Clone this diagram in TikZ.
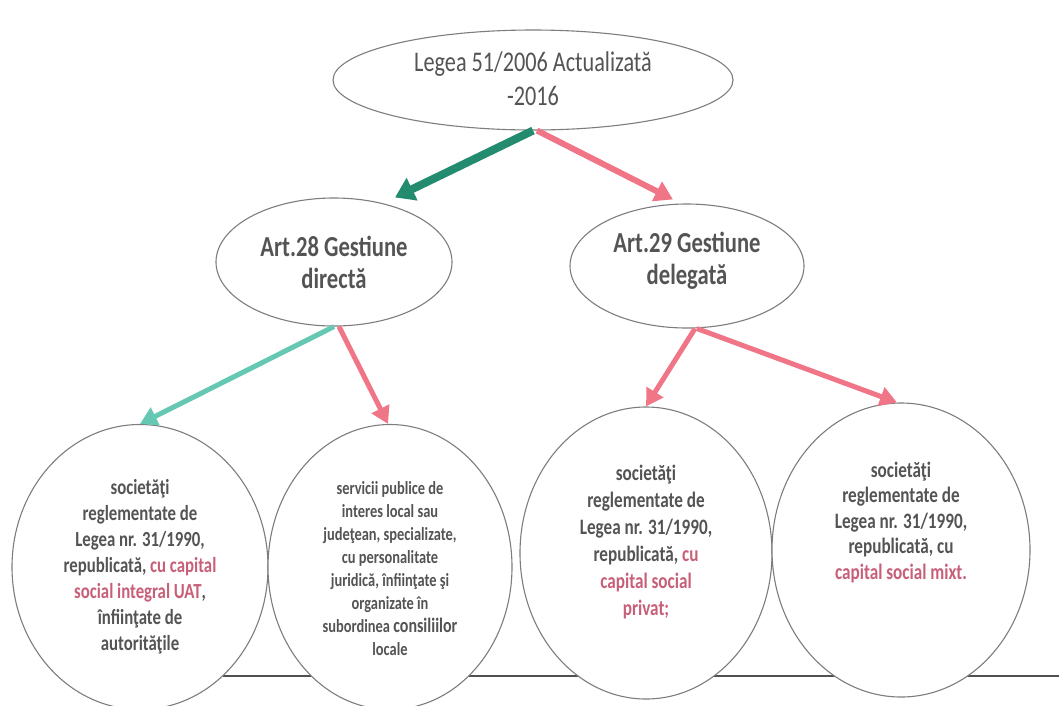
\documentclass[tikz,border=0pt]{standalone}
\usepackage{fontspec}
\setmainfont{Carlito}[FakeStretch=0.78]
\usetikzlibrary{shapes.geometric,arrows.meta}
\definecolor{textgray}{RGB}{84,84,84}
\definecolor{rosetext}{RGB}{200,95,120}
\definecolor{darkteal}{RGB}{35,140,110}
\definecolor{lightteal}{RGB}{100,200,178}
\definecolor{rosearrow}{RGB}{240,118,135}
\definecolor{rimgray}{RGB}{125,125,125}
\definecolor{basegray}{RGB}{80,80,80}
\begin{document}
\begin{tikzpicture}[x=1pt,y=-1pt]
  \tikzstyle{every node}=[text=textgray,align=center,inner sep=0pt]
  \tikzstyle{oval}=[ellipse,draw=rimgray,line width=1.1pt,fill=white]
  \tikzstyle{lawtext}=[font=\fontsize{28.5}{34}\selectfont]
  \tikzstyle{arttext}=[font=\bfseries\fontsize{29}{32}\selectfont]
  \tikzstyle{leaftext}=[font=\bfseries\fontsize{21.5}{26}\selectfont]
  \tikzstyle{smalltext}=[font=\bfseries\fontsize{18.5}{23}\selectfont]
  \tikzstyle{bigarrow}=[-{Triangle[width=24pt,length=19pt]},line width=8pt]
  \tikzstyle{midarrow}=[-{Triangle[width=21pt,length=18pt]},line width=6pt]
  \tikzstyle{thinarrow}=[-{Triangle[width=19pt,length=17pt]},line width=5pt]
  \useasboundingbox (0,0) rectangle (1059,705);
  \coordinate (base west) at (223,676);
  \coordinate (base east) at (1059,676);
  \draw[basegray,line width=1.6pt] (base west) -- (base east);
  \node[oval,minimum width=400pt,minimum height=100pt] (lege) at (533,80) {};
  \node[lawtext] (legetext) at ([yshift=1pt]lege.center) {Legea 51/2006 Actualizată\\-2016};
  \node[oval,minimum width=236pt,minimum height=128pt] (art28) at (334,262) {};
  \node[arttext] (art28text) at (art28) {Art.28 Gestiune\\directă};
  \node[oval,minimum width=234pt,minimum height=124pt] (art29) at (687,266) {};
  \node[arttext] (art29text) at ([yshift=5pt]art29.center) {Art.29 Gestiune\\delegată};
  \node[oval,minimum width=256pt,minimum height=285pt] (soc1) at (140,567) {};
  \node[leaftext] (soc1text) at (soc1) {societăţi\\reglementate de\\Legea nr. 31/1990,\\republicată, \textcolor{rosetext}{cu capital}\\\textcolor{rosetext}{social integral UAT},\\înfiinţate de\\autorităţile};
  \node[oval,minimum width=244pt,minimum height=285pt] (serv) at (390,567) {};
  \node[smalltext] (servtext) at ([yshift=-2pt]serv.center) {servicii publice de\\interes local sau\\judeţean, specializate,\\cu personalitate\\juridică, înfiinţate şi\\organizate în\\subordinea {\fontsize{20.5}{23}\selectfont consiliilor}\\locale};
  \node[oval,minimum width=252pt,minimum height=292pt] (soc2) at (646,553) {};
  \node[leaftext,font=\bfseries\fontsize{22}{27}\selectfont] (soc2text) at ([yshift=11pt]soc2.center) {societăţi\\reglementate de\\Legea nr. 31/1990,\\republicată, \textcolor{rosetext}{cu}\\\textcolor{rosetext}{capital social}\\\textcolor{rosetext}{privat;}};
  \node[oval,minimum width=258pt,minimum height=294pt] (soc3) at (901,550) {};
  \node[leaftext,font=\bfseries\fontsize{22}{25.5}\selectfont] (soc3text) at ([yshift=28pt]soc3.center) {societăţi\\reglementate de\\Legea nr. 31/1990,\\republicată, cu\\\textcolor{rosetext}{capital social mixt.}};
  \draw[bigarrow,darkteal] (lege.south) -- ([xshift=61pt]art28.north);
  \draw[midarrow,rosearrow] ([xshift=4pt]lege.south) -- ([xshift=-14pt,yshift=4pt]art29.north);
  \draw[thinarrow,lightteal] (art28.south) -- (soc1.north);
  \draw[thinarrow,rosearrow] ([xshift=5pt]art28.south) -- ([xshift=-2pt]serv.north);
  \draw[thinarrow,rosearrow] ([xshift=8pt]art29.south) -- (soc2.north);
  \draw[thinarrow,rosearrow] ([xshift=10pt]art29.south) -- ([xshift=-4pt]soc3.north);
\end{tikzpicture}
\end{document}
